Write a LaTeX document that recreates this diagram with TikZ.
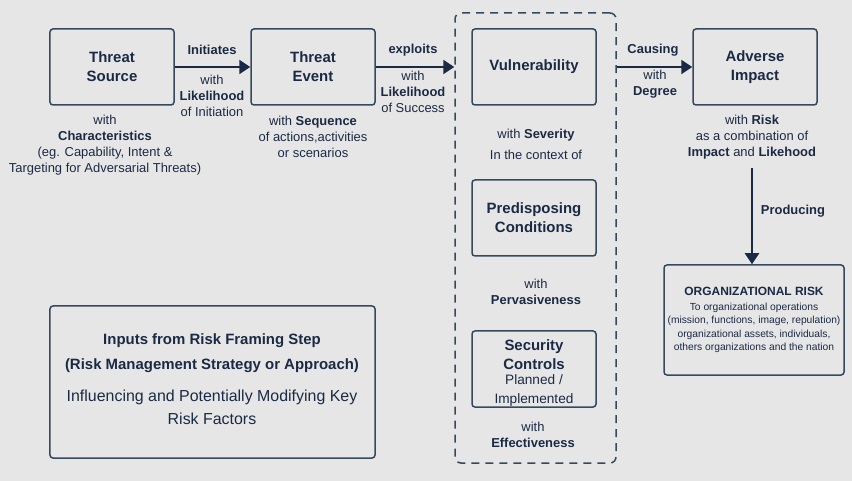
\documentclass[tikz,border=0pt]{standalone}
\usepackage{fontspec}
\setmainfont{Liberation Sans}
\usetikzlibrary{arrows.meta}
\definecolor{bg}{HTML}{E6E6E6}
\definecolor{edge}{HTML}{34495E}
\definecolor{ink}{HTML}{1B2A44}
\begin{document}
\begin{tikzpicture}[x=1bp,y=-1bp,
  box/.style={draw=edge, line width=1.5bp, rounded corners=3bp, text=ink,
    font=\fontsize{15}{19}\selectfont\bfseries, align=center, inner sep=0pt,
    minimum width=124bp, minimum height=76bp},
  grpbox/.style={draw=edge, line width=1.5bp, dash pattern=on 8bp off 6bp,
    rounded corners=6bp, inner sep=0pt, minimum width=161bp, minimum height=450bp},
  lbl/.style={text=ink, font=\fontsize{13}{16}\selectfont, align=center, inner sep=0pt},
  arr/.style={draw=ink, line width=2bp, -{Triangle[length=11bp,width=14bp]}}]
\fill[bg] (0,0) rectangle (852,481);
\useasboundingbox (0,0) rectangle (852,481);

\node[grpbox] (grp) at (535.5,238) {};

\node[box] (ts) at (112,67) {Threat\\Source};
\node[box] (te) at (313,67) {Threat\\Event};
\node[box] (vu) at (534,67) {Vulnerability};
\node[box] (ai) at (755,67) {Adverse\\Impact};
\node[box] (pc) at (534,218) {Predisposing\\Conditions};
\node[box] (sc) at (534,369) {};
\node[lbl, font=\fontsize{15}{19}\selectfont\bfseries] (sct) at (534,373) {Security\\Controls\\[-3bp]{\fontsize{13.7}{16}\selectfont\mdseries Planned /}\\{\fontsize{13.7}{16}\selectfont\mdseries Implemented}};
\node[box, minimum width=180bp, minimum height=110bp] (or) at (754,320) {};
\node[box, minimum width=325bp, minimum height=152bp] (in) at (212.5,382) {};

% arrows
\draw[arr] (ts) -- (te);
\draw[arr] (te.east) -- (te.east -| grp.west);
\draw[arr] (grp.east |- ai.west) -- (ai.west);
\coordinate (pr) at (752,168);
\draw[arr] (pr) -- (pr |- or.north);

% arrow labels
\node[lbl, font=\fontsize{13}{16}\selectfont\bfseries] (l1) at (212,50) {Initiates};
\node[lbl] (l1b) at (212,96) {with\\\textbf{Likelihood}\\of Initiation};
\node[lbl, font=\fontsize{13}{16}\selectfont\bfseries] (l2) at (413,50) {exploits};
\node[lbl] (l2b) at (413,92) {with\\\textbf{Likelihood}\\of Success};
\node[lbl, font=\fontsize{13}{16}\selectfont\bfseries] (l3) at (653,50) {Causing};
\node[lbl] (l3b) at (655,84) {with\\\textbf{Degree}};
\node[lbl, font=\fontsize{13}{16}\selectfont\bfseries] (l4) at (793,211) {Producing};

% descriptions
\node[lbl] (d1) at (105,145) {with\\\textbf{Characteristics}\\(eg. Capability, Intent \&\\Targeting for Adversarial Threats)};
\node[lbl] (d2) at (313,137) {with \textbf{Sequence}\\of actions,activities\\or scenarios};
\node[lbl, font=\fontsize{13}{21}\selectfont] (d3) at (536,144.5) {with \textbf{Severity}\\In the context of};
\node[lbl] (d4) at (752,137) {with \textbf{Risk}\\as a combination of\\\textbf{Impact} and \textbf{Likehood}};
\node[lbl] (d5) at (536,292) {with\\\textbf{Pervasiveness}};
\node[lbl] (d6) at (533,434.5) {with\\\textbf{Effectiveness}};

% organizational risk text
\node[lbl, font=\fontsize{12}{16}\selectfont\bfseries] (ort) at (754,291) {ORGANIZATIONAL RISK};
\node[lbl, font=\fontsize{10.3}{13.4}\selectfont] (orb) at (754,328) {To organizational operations\\(mission, functions, image, repulation)\\organizational assets, individuals,\\others organizations and the nation};

% inputs text
\node[lbl, font=\fontsize{15}{25}\selectfont\bfseries] (it) at (212,353.5) {Inputs from Risk Framing Step\\(Risk Management Strategy or Approach)};
\node[lbl, font=\fontsize{16}{23}\selectfont] (ib) at (212,407.5) {Influencing and Potentially Modifying Key\\Risk Factors};
\end{tikzpicture}
\end{document}
